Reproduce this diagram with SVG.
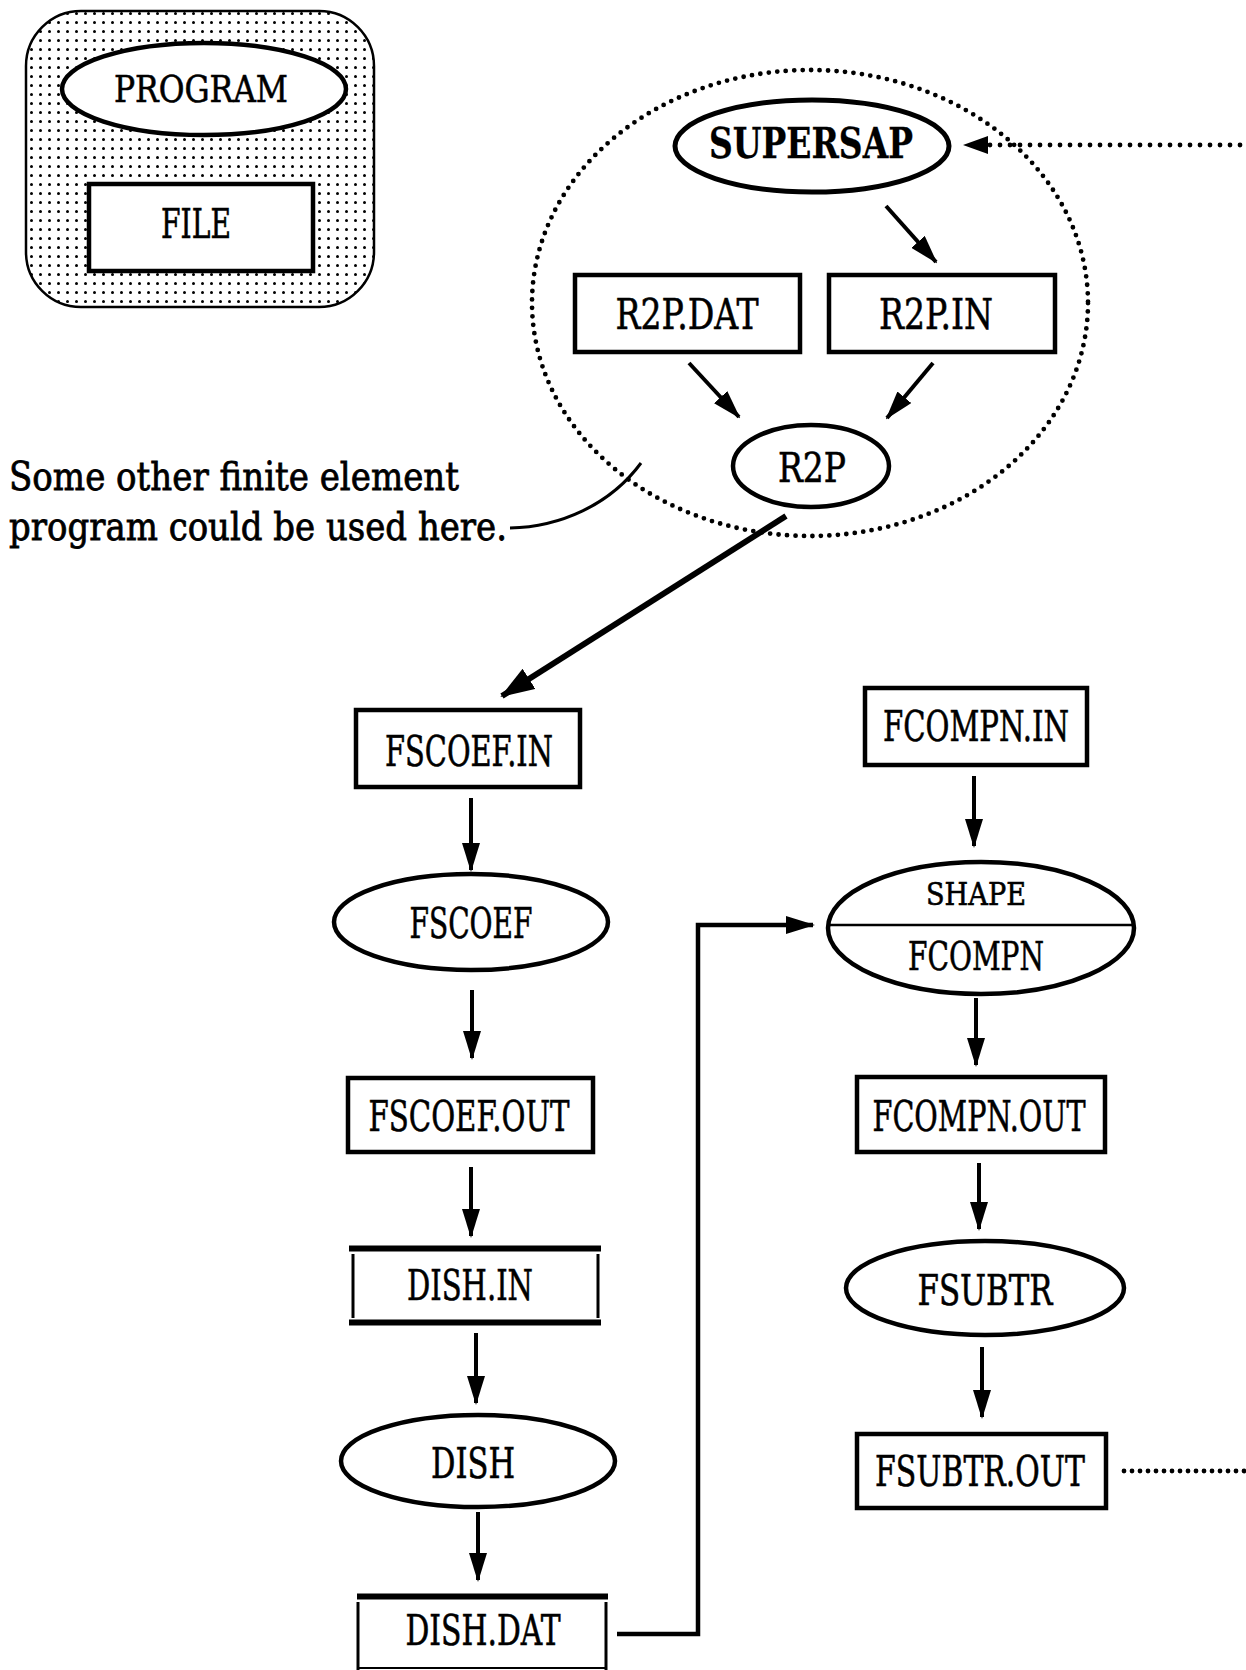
<svg xmlns="http://www.w3.org/2000/svg" width="1246" height="1670" viewBox="0 0 1246 1670">
  <style>
    .t { font-family: "DejaVu Serif", "Liberation Serif", serif; font-size: 43px; text-anchor: middle; fill: #000; stroke: #000; stroke-width: 0.6; }
    .sb { font-weight: bold; stroke-width: 0.3; }
    .lbl { font-family: "DejaVu Serif", "Liberation Serif", serif; font-size: 40px; fill: #000; stroke: #000; stroke-width: 0.8; }
    .box { fill: #fff; stroke: #000; stroke-width: 4.5; }
    .ell { fill: #fff; stroke: #000; stroke-width: 4.5; }
    .arr { fill: none; stroke: #000; stroke-width: 4; marker-end: url(#head); }
    .dot { fill: none; stroke: #000; stroke-width: 4.8; stroke-linecap: round; stroke-dasharray: 0 9; }
    .bar { stroke: #000; stroke-width: 6; }
    .side { stroke: #000; stroke-width: 3; }
  </style>
  <defs>
    <pattern id="dots" width="9" height="9" patternUnits="userSpaceOnUse">
      <circle cx="4.5" cy="4.5" r="1.5" fill="#000"/>
    </pattern>
    <marker id="head" markerUnits="userSpaceOnUse" viewBox="0 0 29 18" markerWidth="29" markerHeight="18" refX="27" refY="9" orient="auto">
      <path d="M0,0 L29,9 L0,18 z" fill="#000"/>
    </marker>
    <marker id="headBig" markerUnits="userSpaceOnUse" viewBox="0 0 34 24" markerWidth="34" markerHeight="24" refX="32" refY="12" orient="auto">
      <path d="M0,0 L34,12 L0,24 z" fill="#000"/>
    </marker>
  </defs>
  <rect width="1246" height="1670" fill="#fff"/>

  <!-- Legend -->
  <g id="legend">
    <rect x="26" y="11" width="348" height="296" rx="55" ry="55" fill="url(#dots)" stroke="#000" stroke-width="2.5"/>
    <g id="legend-program">
      <ellipse class="ell" cx="204" cy="89" rx="142" ry="46"/>
      <text class="t" x="201" y="102" style="font-size:37px" textLength="174" lengthAdjust="spacingAndGlyphs">PROGRAM</text>
    </g>
    <g id="legend-file">
      <rect class="box" x="89" y="184" width="224" height="87"/>
      <text class="t" x="196" y="238" style="font-size:41px" textLength="70" lengthAdjust="spacingAndGlyphs">FILE</text>
    </g>
  </g>

  <!-- Dotted boundary -->
  <g id="fe-boundary">
    <ellipse class="dot" cx="810" cy="303" rx="278" ry="233" style="stroke-dasharray:0 8.5"/>
  </g>

  <!-- Nodes -->
  <g id="supersap">
    <ellipse class="ell" cx="812" cy="146" rx="137" ry="46" style="stroke-width:5"/>
    <text class="t sb" x="811" y="158" textLength="204" lengthAdjust="spacingAndGlyphs">SUPERSAP</text>
  </g>
  <g id="r2p-dat">
    <rect class="box" x="575" y="275" width="225" height="77"/>
    <text class="t" x="687" y="329" textLength="143" lengthAdjust="spacingAndGlyphs">R2P.DAT</text>
  </g>
  <g id="r2p-in">
    <rect class="box" x="829" y="275" width="226" height="77"/>
    <text class="t" x="936" y="329" textLength="114" lengthAdjust="spacingAndGlyphs">R2P.IN</text>
  </g>
  <g id="r2p">
    <ellipse class="ell" cx="811" cy="466" rx="78" ry="41"/>
    <text class="t" x="812" y="482" style="font-size:41px" textLength="68" lengthAdjust="spacingAndGlyphs">R2P</text>
  </g>

  <g id="note">
    <text class="lbl" x="9" y="490" textLength="450" lengthAdjust="spacingAndGlyphs">Some other finite element</text>
    <text class="lbl" x="9" y="540" textLength="498" lengthAdjust="spacingAndGlyphs">program could be used here.</text>
  </g>

  <g id="fscoef-in">
    <rect class="box" x="356" y="710" width="224" height="77"/>
    <text class="t" x="469" y="766" textLength="168" lengthAdjust="spacingAndGlyphs">FSCOEF.IN</text>
  </g>
  <g id="fscoef">
    <ellipse class="ell" cx="471" cy="922" rx="137" ry="48"/>
    <text class="t" x="471" y="938" textLength="123" lengthAdjust="spacingAndGlyphs">FSCOEF</text>
  </g>
  <g id="fscoef-out">
    <rect class="box" x="348" y="1078" width="245" height="74"/>
    <text class="t" x="469" y="1131" textLength="201" lengthAdjust="spacingAndGlyphs">FSCOEF.OUT</text>
  </g>
  <g id="dish-in">
    <rect x="351" y="1249" width="248" height="73" fill="#fff"/>
    <line class="bar" x1="349" y1="1248.5" x2="601" y2="1248.5"/>
    <line class="bar" x1="349" y1="1322.5" x2="601" y2="1322.5"/>
    <line class="side" x1="353" y1="1254" x2="353" y2="1318"/>
    <line class="side" x1="598" y1="1254" x2="598" y2="1318"/>
    <text class="t" x="470" y="1300" textLength="126" lengthAdjust="spacingAndGlyphs">DISH.IN</text>
  </g>
  <g id="dish">
    <ellipse class="ell" cx="478" cy="1461" rx="137" ry="46"/>
    <text class="t" x="473" y="1478" textLength="84" lengthAdjust="spacingAndGlyphs">DISH</text>
  </g>
  <g id="dish-dat">
    <rect x="358" y="1597" width="248" height="73" fill="#fff"/>
    <line class="bar" x1="357" y1="1596.5" x2="608" y2="1596.5"/>
    <line class="side" x1="358" y1="1602" x2="358" y2="1670"/>
    <line class="side" x1="606" y1="1602" x2="606" y2="1670"/>
    <line class="side" x1="358" y1="1668" x2="606" y2="1668" style="stroke-width:2"/>
    <text class="t" x="483" y="1645" textLength="155" lengthAdjust="spacingAndGlyphs">DISH.DAT</text>
  </g>

  <g id="fcompn-in">
    <rect class="box" x="865" y="688" width="222" height="77"/>
    <text class="t" x="976" y="741" textLength="186" lengthAdjust="spacingAndGlyphs">FCOMPN.IN</text>
  </g>
  <g id="shape-fcompn">
    <ellipse class="ell" cx="981" cy="928" rx="153" ry="66"/>
    <line x1="829" y1="925" x2="1133" y2="925" stroke="#000" stroke-width="2.5"/>
    <text class="t" x="976" y="905" style="font-size:31px" textLength="100" lengthAdjust="spacingAndGlyphs">SHAPE</text>
    <text class="t" x="976" y="970" style="font-size:39px" textLength="136" lengthAdjust="spacingAndGlyphs">FCOMPN</text>
  </g>
  <g id="fcompn-out">
    <rect class="box" x="857" y="1077" width="248" height="75"/>
    <text class="t" x="979" y="1131" textLength="213" lengthAdjust="spacingAndGlyphs">FCOMPN.OUT</text>
  </g>
  <g id="fsubtr">
    <ellipse class="ell" cx="985" cy="1288" rx="139" ry="47"/>
    <text class="t" x="985" y="1305" textLength="135" lengthAdjust="spacingAndGlyphs">FSUBTR</text>
  </g>
  <g id="fsubtr-out">
    <rect class="box" x="857" y="1434" width="249" height="74"/>
    <text class="t" x="980" y="1486" textLength="210" lengthAdjust="spacingAndGlyphs">FSUBTR.OUT</text>
  </g>

  <!-- Connectors -->
  <g id="connectors">
    <line class="dot" x1="1250" y1="145" x2="985" y2="145" style="stroke-dasharray:0 10"/>
    <path d="M988,136 L963,145 L988,154 z" fill="#000"/>
    <line class="arr" x1="886" y1="206" x2="936" y2="262"/>
    <line class="arr" x1="689" y1="363" x2="739" y2="417"/>
    <line class="arr" x1="933" y1="363" x2="887" y2="418"/>
    <line x1="786" y1="516" x2="502" y2="696" stroke="#000" stroke-width="6" marker-end="url(#headBig)"/>
    <path d="M510,528 C560,527 610,505 641,463" fill="none" stroke="#000" stroke-width="3"/>
    <line class="arr" x1="471" y1="798" x2="471" y2="870"/>
    <line class="arr" x1="472" y1="990" x2="472" y2="1058"/>
    <line class="arr" x1="471" y1="1167" x2="471" y2="1236"/>
    <line class="arr" x1="476" y1="1333" x2="476" y2="1403"/>
    <line class="arr" x1="478" y1="1512" x2="478" y2="1580"/>
    <path class="arr" d="M617,1634 H698 V925 H813" style="stroke-width:4.5"/>
    <line class="arr" x1="974" y1="776" x2="974" y2="846"/>
    <line class="arr" x1="976" y1="998" x2="976" y2="1065"/>
    <line class="arr" x1="979" y1="1163" x2="979" y2="1229"/>
    <line class="arr" x1="982" y1="1347" x2="982" y2="1417"/>
    <line class="dot" x1="1124" y1="1471" x2="1250" y2="1471" style="stroke-dasharray:0 8"/>
  </g>
</svg>
